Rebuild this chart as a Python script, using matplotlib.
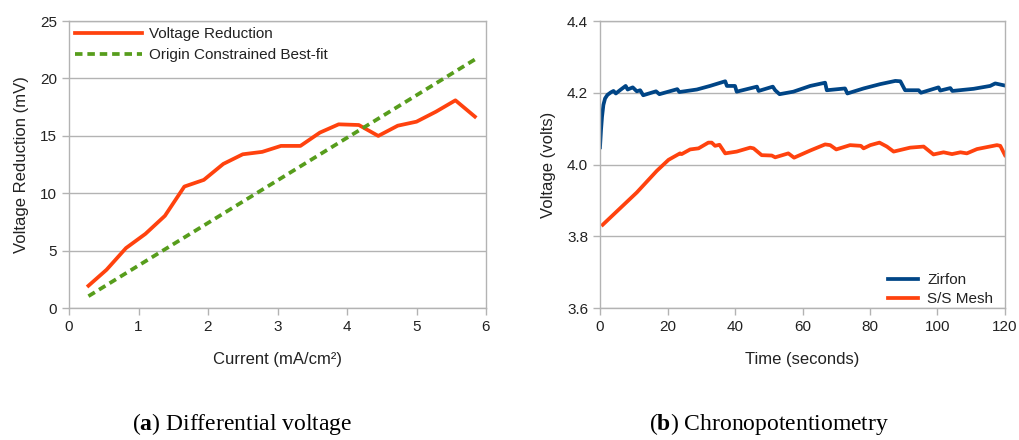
import matplotlib
matplotlib.use("Agg")
import matplotlib.pyplot as plt

plt.rcParams['font.family'] = ['Liberation Sans', 'DejaVu Sans']
plt.rcParams['mathtext.fontset'] = 'custom'
plt.rcParams['mathtext.rm'] = 'Liberation Serif'
plt.rcParams['mathtext.bf'] = 'Liberation Serif:bold'

# (a) differential voltage
current = [0.28, 0.54, 0.82, 1.10, 1.38, 1.66, 1.94, 2.22, 2.50, 2.78, 3.05,
           3.33, 3.61, 3.88, 4.17, 4.45, 4.73, 5.00, 5.28, 5.56, 5.84]
v_reduction = [1.94, 3.33, 5.22, 6.46, 8.03, 10.58, 11.16, 12.55, 13.39, 13.60, 14.12,
               14.12, 15.28, 16.00, 15.94, 14.99, 15.88, 16.23, 17.10, 18.09, 16.67]
fit_x = [0.28, 5.84]
fit_y = [1.03, 21.65]

# (b) chronopotentiometry
t_zirfon = [0.0, 0.3, 0.6, 1.0, 1.5, 2.2, 3.2, 4.0, 4.7, 5.9, 7.6, 8.2, 9.7, 10.9,
            11.9, 12.8, 16.6, 17.6, 22.9, 23.5, 28.7, 32.6, 37.1, 37.6, 40.0, 40.5,
            46.5, 47.0, 51.2, 51.9, 53.2, 57.3, 62.3, 66.7, 67.2, 72.6, 73.3, 78.1,
            83.0, 87.5, 89.0, 90.4, 94.4, 95.1, 100.3, 100.8, 103.8, 104.4, 110.7,
            115.6, 117.1, 120.0]
v_zirfon = [4.048, 4.096, 4.133, 4.166, 4.184, 4.194, 4.201, 4.205, 4.198, 4.207,
            4.219, 4.209, 4.215, 4.204, 4.207, 4.193, 4.204, 4.196, 4.210, 4.202,
            4.209, 4.219, 4.232, 4.219, 4.219, 4.203, 4.217, 4.205, 4.217, 4.207,
            4.196, 4.203, 4.219, 4.228, 4.207, 4.212, 4.198, 4.212, 4.224, 4.233,
            4.232, 4.207, 4.207, 4.200, 4.215, 4.206, 4.213, 4.205, 4.211, 4.219,
            4.226, 4.220]
t_mesh = [0.8, 10.9, 16.8, 20.3, 23.7, 24.2, 26.7, 29.2, 32.1, 33.1, 34.1, 35.4,
          37.1, 40.5, 44.5, 45.5, 47.9, 50.9, 51.9, 55.8, 57.5, 62.3, 66.7, 68.2,
          70.0, 74.1, 77.3, 78.1, 80.1, 82.8, 85.0, 87.0, 91.9, 95.9, 98.8, 101.8,
          104.3, 106.8, 108.7, 111.7, 117.6, 118.6, 120.0]
v_mesh = [3.832, 3.922, 3.982, 4.013, 4.031, 4.029, 4.042, 4.045, 4.061, 4.061,
          4.052, 4.055, 4.031, 4.036, 4.047, 4.045, 4.026, 4.025, 4.020, 4.031,
          4.019, 4.039, 4.056, 4.054, 4.042, 4.054, 4.052, 4.045, 4.054, 4.061,
          4.050, 4.036, 4.047, 4.050, 4.028, 4.034, 4.029, 4.034, 4.031, 4.043,
          4.054, 4.052, 4.026]

grid_c = '#b3b3b3'
txt_c = '#222222'


def style(ax):
    for s in ax.spines.values():
        s.set_color(grid_c)
        s.set_linewidth(1.0)
    ax.grid(axis='y', color=grid_c, linewidth=1.0)
    ax.set_axisbelow(True)
    ax.tick_params(colors=grid_c, labelcolor=txt_c, labelsize=11, length=5, width=1.0)


fig = plt.figure(figsize=(10.19, 4.4), dpi=100)

ax1 = fig.add_axes([69 / 1019, 132 / 440, 417 / 1019, 287 / 440])
style(ax1)
ax1.plot(current, v_reduction, color='#ff420e', lw=2.7, label='Voltage Reduction')
ax1.plot(fit_x, fit_y, color='#579d1c', lw=2.7, dashes=(2.0, 1.3),
         label='Origin Constrained Best-fit')
ax1.set_xlim(0, 6)
ax1.set_ylim(0, 25)
ax1.set_xticks(range(0, 7))
ax1.set_yticks(range(0, 26, 5))
ax1.set_xlabel('Current (mA/cm²)', fontsize=12, color=txt_c, labelpad=13)
ax1.set_ylabel('Voltage Reduction (mV)', fontsize=12, color=txt_c, labelpad=8)
ax1.legend(loc='upper left', frameon=False, fontsize=11, handlelength=4.4,
           handletextpad=0.45, borderaxespad=0.1, borderpad=0.3, labelspacing=0.45,
           labelcolor=txt_c)

ax2 = fig.add_axes([600 / 1019, 132 / 440, 405 / 1019, 287 / 440])
style(ax2)
ax2.plot(t_zirfon, v_zirfon, color='#004586', lw=2.7, label='Zirfon')
ax2.plot(t_mesh, v_mesh, color='#ff420e', lw=2.7, label='S/S Mesh')
ax2.set_xlim(0, 120)
ax2.set_ylim(3.6, 4.4)
ax2.set_xticks(range(0, 121, 20))
ax2.set_yticks([3.6, 3.8, 4.0, 4.2, 4.4])
ax2.set_yticklabels(['3.6', '3.8', '4.0', '4.2', '4.4'])
ax2.set_xlabel('Time (seconds)', fontsize=12, color=txt_c, labelpad=13)
ax2.set_ylabel('Voltage (volts)', fontsize=12, color=txt_c, labelpad=8)
ax2.legend(loc='lower right', bbox_to_anchor=(0.975, 0.0), frameon=False,
           fontsize=11, handlelength=2.0, handletextpad=0.6, borderaxespad=0.0,
           borderpad=0.1, labelspacing=0.35, labelcolor=txt_c)

# sub-captions
fig.text(242 / 1019, 1 - 424 / 440, r'($\mathbf{a}$) Differential voltage',
         ha='center', va='center', fontsize=17, family='Liberation Serif',
         color='black')
fig.text(769 / 1019, 1 - 424 / 440, r'($\mathbf{b}$) Chronopotentiometry',
         ha='center', va='center', fontsize=17, family='Liberation Serif',
         color='black')

fig.savefig('out.png', dpi=100)
